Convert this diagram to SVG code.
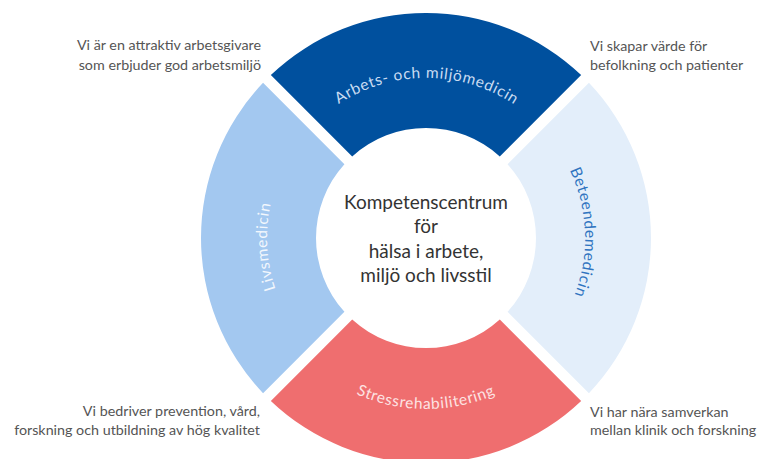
<svg xmlns="http://www.w3.org/2000/svg" xmlns:xlink="http://www.w3.org/1999/xlink" width="765" height="459" viewBox="0 0 765 459">
<style>
.note{font-family:Lato,"Open Sans",sans-serif;font-size:14.3px;fill:#555}
.center{font-family:Lato,"Open Sans",sans-serif;font-size:19px;fill:#333;text-anchor:middle}
.seglabel{font-family:Lato,"Open Sans",sans-serif;font-size:15.5px;letter-spacing:0.7px}
</style>
<defs>
<path id="arcTop" d="M266,238 A160,160 0 0 1 586,238"/>
<path id="arcBottom" d="M255,238 A171,171 0 0 0 597,238"/>
<path id="arcLeft" d="M426,397 A159,159 0 0 1 426,79"/>
<path id="arcRight" d="M426,79 A159,159 0 0 1 426,397"/>
</defs>
<rect width="765" height="459" fill="#fff"/>
<g id="arbets">
<path d="M270.84,75.06 A225,225 0 0 1 581.16,75.06 L499.79,156.43 A110,110 0 0 0 352.21,156.43 Z" fill="#00509E"/>
<text class="seglabel" fill="#C9DCF2"><textPath xlink:href="#arcTop" startOffset="252" text-anchor="middle">Arbets- och miljömedicin</textPath></text>
</g>
<g id="beteende">
<path d="M588.94,82.84 A225,225 0 0 1 588.94,393.16 L507.57,311.79 A110,110 0 0 0 507.57,164.21 Z" fill="#E3EEFA"/>
<text class="seglabel" fill="#2F74C0"><textPath xlink:href="#arcRight" startOffset="244" text-anchor="middle">Beteendemedicin</textPath></text>
</g>
<g id="stress">
<path d="M581.16,400.94 A225,225 0 0 1 270.84,400.94 L352.21,319.57 A110,110 0 0 0 499.79,319.57 Z" fill="#EF6E6F"/>
<text class="seglabel" fill="#FDE3E3" letter-spacing="1.3"><textPath xlink:href="#arcBottom" startOffset="50%" text-anchor="middle">Stressrehabilitering</textPath></text>
</g>
<g id="livs">
<path d="M263.06,393.16 A225,225 0 0 1 263.06,82.84 L344.43,164.21 A110,110 0 0 0 344.43,311.79 Z" fill="#A3C8F0"/>
<text class="seglabel" fill="#F2F7FD"><textPath xlink:href="#arcLeft" startOffset="241" text-anchor="middle">Livsmedicin</textPath></text>
</g>
<g id="centrum">
<text class="center" x="426" y="209">Kompetenscentrum</text>
<text class="center" x="426" y="233">för</text>
<text class="center" x="426" y="258">hälsa i arbete,</text>
<text class="center" x="426" y="282">miljö och livsstil</text>
</g>
<g id="note-tl">
<text class="note" text-anchor="end" x="261" y="50">Vi är en attraktiv arbetsgivare</text>
<text class="note" text-anchor="end" x="261" y="70">som erbjuder god arbetsmiljö</text>
</g>
<g id="note-tr">
<text class="note" x="590" y="51">Vi skapar värde för</text>
<text class="note" x="590" y="70">befolkning och patienter</text>
</g>
<g id="note-bl">
<text class="note" text-anchor="end" x="260" y="416">Vi bedriver prevention, vård,</text>
<text class="note" text-anchor="end" x="260" y="435">forskning och utbildning av hög kvalitet</text>
</g>
<g id="note-br">
<text class="note" x="590" y="417">Vi har nära samverkan</text>
<text class="note" x="590" y="435">mellan klinik och forskning</text>
</g>
<g id="connectors"/>
</svg>
